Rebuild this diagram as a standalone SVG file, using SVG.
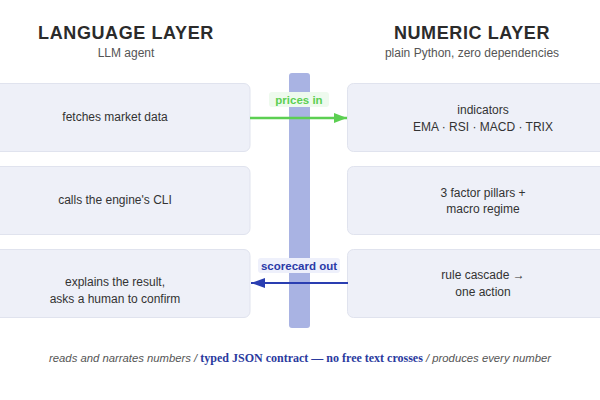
<svg xmlns="http://www.w3.org/2000/svg" width="600" height="400" viewBox="0 0 600 400">
<defs>
<style>
.title{font-family:"Liberation Sans",Arial,sans-serif;font-weight:bold;font-size:18px;fill:#2b2b2b;text-anchor:middle;letter-spacing:0.6px}
.sub{font-family:"Liberation Sans",Arial,sans-serif;font-size:12px;fill:#555;text-anchor:middle}
.box{fill:#eef0f8;stroke:#e0e3ee;stroke-width:1}
.t{font-family:"Liberation Sans",Arial,sans-serif;font-size:12px;fill:#333;text-anchor:middle}
.lbl{font-family:"Liberation Sans",Arial,sans-serif;font-weight:bold;font-size:11.5px;text-anchor:middle}
.foot{font-family:"Liberation Sans",Arial,sans-serif;font-style:italic;font-size:11.3px;fill:#555}
.footb{font-family:"Liberation Serif","Times New Roman",serif;font-style:normal;font-weight:bold;font-size:12px;fill:#2a3a9e}
</style>
<marker id="ag" markerWidth="13" markerHeight="10" refX="13" refY="5" orient="auto" markerUnits="userSpaceOnUse">
<path d="M0,0 L13,5 L0,10 Z" fill="#5ccf52"/>
</marker>
<marker id="ab" markerWidth="14" markerHeight="10" refX="14" refY="5" orient="auto" markerUnits="userSpaceOnUse">
<path d="M0,0 L14,5 L0,10 Z" fill="#2a3eb1"/>
</marker>
</defs>
<rect width="600" height="400" fill="#ffffff"/>

<g id="header-left">
<text class="title" x="126" y="39">LANGUAGE LAYER</text>
<text class="sub" x="126" y="57">LLM agent</text>
</g>
<g id="header-right">
<text class="title" x="472" y="39">NUMERIC LAYER</text>
<text class="sub" x="472" y="57">plain Python, zero dependencies</text>
</g>

<g id="contract-bar">
<rect x="289" y="73" width="21" height="255" rx="3" fill="#a9b3e3"/>
</g>

<g id="fetch">
<rect class="box" x="-20" y="83.5" width="270" height="68" rx="6"/>
<text class="t" x="115" y="121">fetches market data</text>
</g>
<g id="cli">
<rect class="box" x="-20" y="166.5" width="270" height="68" rx="6"/>
<text class="t" x="115" y="204">calls the engine's CLI</text>
</g>
<g id="explain">
<rect class="box" x="-20" y="249.5" width="270" height="68" rx="6"/>
<text class="t" x="115" y="286">explains the result,</text>
<text class="t" x="115" y="303">asks a human to confirm</text>
</g>

<g id="indicators">
<rect class="box" x="347.5" y="83.5" width="272" height="68" rx="6"/>
<text class="t" x="483" y="114">indicators</text>
<text class="t" x="483" y="131">EMA · RSI · MACD · TRIX</text>
</g>
<g id="pillars">
<rect class="box" x="347.5" y="166.5" width="272" height="68" rx="6"/>
<text class="t" x="483" y="197">3 factor pillars +</text>
<text class="t" x="483" y="213">macro regime</text>
</g>
<g id="cascade">
<rect class="box" x="347.5" y="249.5" width="272" height="68" rx="6"/>
<text class="t" x="483" y="279">rule cascade →</text>
<text class="t" x="483" y="296">one action</text>
</g>

<g id="connectors">
<line x1="250" y1="118" x2="347" y2="118" stroke="#5ccf52" stroke-width="2.5" marker-end="url(#ag)"/>
<rect x="269" y="92" width="60" height="15" rx="3" fill="#eefaee"/>
<text class="lbl" x="299" y="104" fill="#5ccf52">prices in</text>
<line x1="348" y1="283" x2="251" y2="283" stroke="#2a3eb1" stroke-width="2" marker-end="url(#ab)"/>
<rect x="258" y="258" width="82" height="15" rx="3" fill="#eef0fb"/>
<text class="lbl" x="299" y="270" fill="#2a3aa8">scorecard out</text>
</g>

<g id="footer">
<text class="foot" x="300" y="362" text-anchor="middle">reads and narrates numbers / <tspan class="footb">typed JSON contract — no free text crosses</tspan> / produces every number</text>
</g>
</svg>
